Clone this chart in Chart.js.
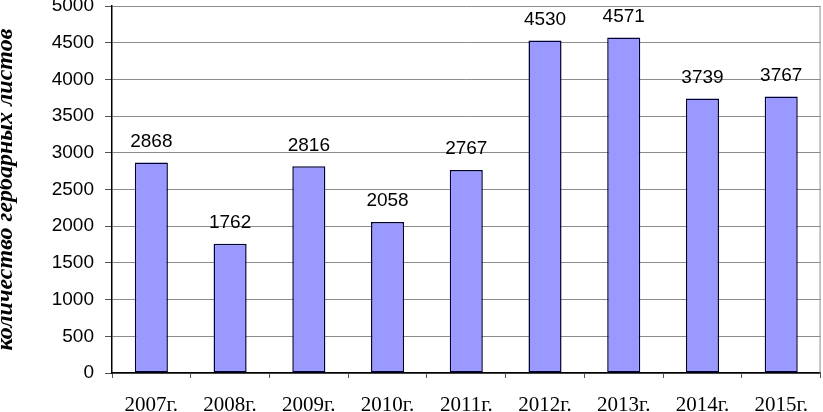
<!DOCTYPE html>
<html>
<head>
<meta charset="utf-8">
<script src="https://cdn.jsdelivr.net/npm/chart.js@4"></script>
<style>
  html, body { margin: 0; padding: 0; background: #fff; }
  #wrap { width: 823px; height: 412px; }
</style>
</head>
<body>
<div id="wrap"><canvas id="herbChart" width="823" height="412"></canvas></div>
<script>
const years = ['2007г.', '2008г.', '2009г.', '2010г.', '2011г.', '2012г.', '2013г.', '2014г.', '2015г.'];
const sheets = [2868, 1762, 2816, 2058, 2767, 4530, 4571, 3739, 3767];
const yTitle = 'количество гербарных листов';

// подписи значений над столбцами + серая рамка справа
const frameAndLabels = {
  id: 'frameAndLabels',
  afterDatasetsDraw(chart) {
    const ctx = chart.ctx;
    const { top, right, bottom } = chart.chartArea;
    ctx.save();
    ctx.strokeStyle = '#8c8c8c';
    ctx.lineWidth = 1;
    ctx.beginPath();
    ctx.moveTo(right - 0.5, top);
    ctx.lineTo(right - 0.5, bottom);
    ctx.stroke();

    const meta = chart.getDatasetMeta(0);
    ctx.fillStyle = '#000';
    ctx.font = '19px "Liberation Sans", Arial, sans-serif';
    ctx.textAlign = 'center';
    ctx.textBaseline = 'middle';
    meta.data.forEach((bar, i) => {
      ctx.fillText(sheets[i], bar.x, bar.y - 21);
    });
    ctx.restore();
  }
};

new Chart(document.getElementById('herbChart').getContext('2d'), {
  type: 'bar',
  data: {
    labels: years,
    datasets: [{
      data: sheets,
      backgroundColor: '#9999ff',
      borderColor: '#000033',
      borderWidth: 1.5,
      borderSkipped: false,
      categoryPercentage: 1,
      barPercentage: 0.42
    }]
  },
  options: {
    responsive: false,
    animation: false,
    layout: { padding: { top: 6, right: 1, left: 0, bottom: 0 } },
    plugins: {
      legend: { display: false },
      tooltip: { enabled: false }
    },
    scales: {
      x: {
        offset: true,
        grid: {
          offset: true,
          drawOnChartArea: false,
          tickLength: 5,
          color: '#555'
        },
        border: { color: '#000', width: 1.5 },
        ticks: {
          color: '#000',
          padding: 15,
          font: { family: '"Liberation Serif", "Times New Roman", serif', size: 21 }
        },
        afterFit: s => { s.height = 39; }
      },
      y: {
        min: 0,
        max: 5000,
        ticks: {
          stepSize: 500,
          color: '#000',
          padding: 11,
          callback: v => String(v),
          font: { family: '"Liberation Sans", Arial, sans-serif', size: 19 }
        },
        grid: {
          color: '#8c8c8c',
          tickLength: 7,
          tickColor: '#555'
        },
        border: { color: '#000', width: 1.5 },
        title: {
          display: true,
          text: yTitle,
          color: '#000',
          padding: 0,
          font: { family: '"Liberation Serif", "Times New Roman", serif', size: 24, style: 'italic', weight: 'bold', lineHeight: 0.5 }
        },
        // верхняя подпись "5000" может выходить за край, как в оригинале
        afterFit: s => { s.width = 112; s.paddingTop = 0; s.paddingBottom = 0; }
      }
    }
  },
  plugins: [frameAndLabels]
});
</script>
</body>
</html>
